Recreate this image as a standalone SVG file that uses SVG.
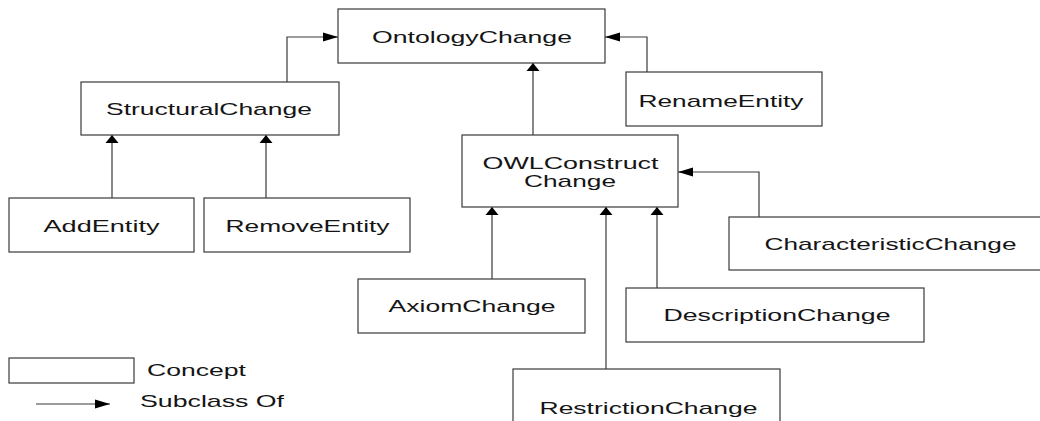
<svg xmlns="http://www.w3.org/2000/svg" width="1040" height="421" viewBox="0 0 1040 421">
<style>
.box{fill:#fff;stroke:#3a3a3a;stroke-width:1.2}
.lbl{font-family:"Liberation Sans",Arial,sans-serif;font-size:17px;fill:#151515}
.con{fill:none;stroke:#3a3a3a;stroke-width:1.2}
</style>
<defs>
<marker id="arrV" markerUnits="userSpaceOnUse" markerWidth="8" markerHeight="13" refX="8" refY="6.5" orient="auto" overflow="visible">
<path d="M0,0 L8,6.5 L0,13 z" fill="#000"/>
</marker>
<marker id="arrH" markerUnits="userSpaceOnUse" markerWidth="15" markerHeight="9" refX="15" refY="4.5" orient="auto" overflow="visible">
<path d="M0,0 L15,4.5 L0,9 z" fill="#000"/>
</marker>
</defs>
<rect width="1040" height="421" fill="#fff"/>
<g id="connectors">
<path class="con" d="M287,82 V37 H338" marker-end="url(#arrH)"/>
<path class="con" d="M647,72 V37 H605" marker-end="url(#arrH)"/>
<path class="con" d="M533,135 V63" marker-end="url(#arrV)"/>
<path class="con" d="M112,198 V135" marker-end="url(#arrV)"/>
<path class="con" d="M266,198 V135" marker-end="url(#arrV)"/>
<path class="con" d="M492,279 V207" marker-end="url(#arrV)"/>
<path class="con" d="M606,369 V207" marker-end="url(#arrV)"/>
<path class="con" d="M657,288 V207" marker-end="url(#arrV)"/>
<path class="con" d="M759,217 V172 H678" marker-end="url(#arrH)"/>
</g>
<g id="OntologyChange">
<rect class="box" x="338" y="9" width="267" height="54"/>
<text class="lbl" x="372" y="42.5" textLength="200" lengthAdjust="spacingAndGlyphs">OntologyChange</text>
</g>
<g id="StructuralChange">
<rect class="box" x="81" y="82" width="258" height="53"/>
<text class="lbl" x="106" y="114.5" textLength="206" lengthAdjust="spacingAndGlyphs">StructuralChange</text>
</g>
<g id="RenameEntity">
<rect class="box" x="626" y="72" width="196" height="54"/>
<text class="lbl" x="638.5" y="106.5" textLength="165" lengthAdjust="spacingAndGlyphs">RenameEntity</text>
</g>
<g id="OWLConstructChange">
<rect class="box" x="462" y="135" width="216" height="72"/>
<text class="lbl" x="482.5" y="168.5" textLength="176" lengthAdjust="spacingAndGlyphs">OWLConstruct</text>
<text class="lbl" x="524" y="186.5" textLength="92" lengthAdjust="spacingAndGlyphs">Change</text>
</g>
<g id="AddEntity">
<rect class="box" x="9" y="198" width="185" height="54"/>
<text class="lbl" x="43.5" y="231.5" textLength="116" lengthAdjust="spacingAndGlyphs">AddEntity</text>
</g>
<g id="RemoveEntity">
<rect class="box" x="204" y="198" width="206" height="54"/>
<text class="lbl" x="225.5" y="231.5" textLength="164" lengthAdjust="spacingAndGlyphs">RemoveEntity</text>
</g>
<g id="CharacteristicChange">
<rect class="box" x="729" y="217" width="320" height="53"/>
<text class="lbl" x="764.5" y="249.5" textLength="252" lengthAdjust="spacingAndGlyphs">CharacteristicChange</text>
</g>
<g id="AxiomChange">
<rect class="box" x="358" y="279" width="227" height="54"/>
<text class="lbl" x="388.5" y="311.5" textLength="167" lengthAdjust="spacingAndGlyphs">AxiomChange</text>
</g>
<g id="DescriptionChange">
<rect class="box" x="626" y="288" width="298" height="54"/>
<text class="lbl" x="663.5" y="320.5" textLength="227" lengthAdjust="spacingAndGlyphs">DescriptionChange</text>
</g>
<g id="RestrictionChange">
<rect class="box" x="513" y="369" width="267" height="60"/>
<text class="lbl" x="539.5" y="413.5" textLength="218" lengthAdjust="spacingAndGlyphs">RestrictionChange</text>
</g>
<g id="legend">
<rect class="box" x="9" y="358" width="125" height="25"/>
<text class="lbl" x="147" y="376" textLength="99" lengthAdjust="spacingAndGlyphs">Concept</text>
<path class="con" d="M36,404 H110" marker-end="url(#arrH)"/>
<text class="lbl" x="140" y="406.5" textLength="144" lengthAdjust="spacingAndGlyphs">Subclass Of</text>
</g>
</svg>
